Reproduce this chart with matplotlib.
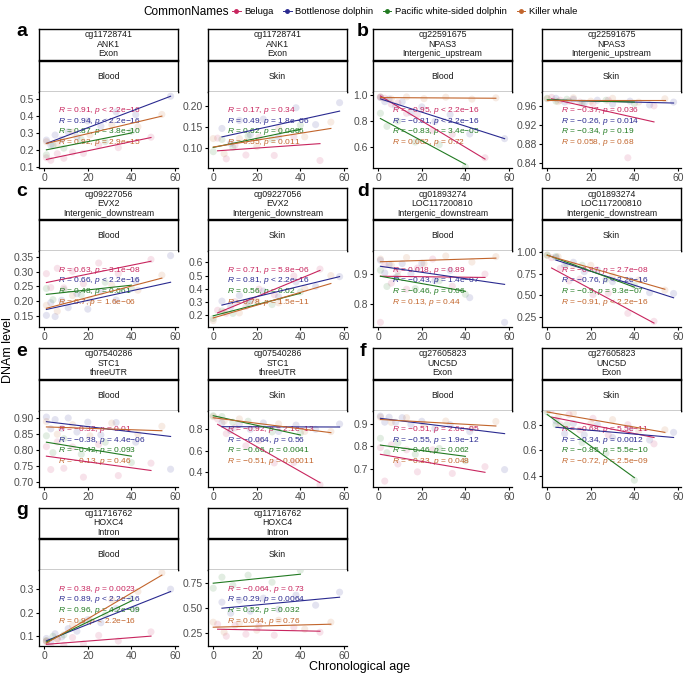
import matplotlib.pyplot as plt
from matplotlib.lines import Line2D

plt.rcParams['font.family'] = ['Liberation Sans', 'DejaVu Sans']
plt.rcParams['mathtext.fontset'] = 'custom'
plt.rcParams['mathtext.rm'] = 'Liberation Sans'
plt.rcParams['mathtext.it'] = 'Liberation Sans:italic'

species = ['Beluga', 'Bottlenose dolphin', 'Pacific white-sided dolphin', 'Killer whale']
colors = ['#C8255E', '#2A2A90', '#217A21', '#C2652C']

# sample ages (same animals for every CpG), per tissue, per species
blood_ages = [[1, 3, 6, 9, 13, 18, 25, 34, 49],
              [1, 3, 5, 8, 11, 15, 20, 26, 33, 42, 58],
              [1, 4, 9, 17, 28, 40],
              [1, 6, 13, 21, 31, 43, 54]]
skin_ages = [[2, 6, 10, 15, 21, 28, 37, 49],
             [4, 8, 12, 17, 23, 30, 38, 47, 58],
             [0, 4, 9, 16, 27, 40],
             [0, 5, 12, 20, 30, 42, 54]]

# ---- a: cg11728741
a_blood_y = [[0.153, 0.138, 0.177, 0.150, 0.186, 0.179, 0.228, 0.213, 0.275],
             [0.258, 0.228, 0.288, 0.262, 0.307, 0.277, 0.371, 0.341, 0.425, 0.409, 0.518],
             [0.170, 0.228, 0.210, 0.261, 0.249, 0.310],
             [0.248, 0.233, 0.305, 0.289, 0.350, 0.337, 0.410]]
a_blood_fit = [(0.143, 0.273), (0.238, 0.518), (0.200, 0.300), (0.238, 0.400)]
a_blood_stats = [('0.91', '< 2.2e−16'), ('0.94', '< 2.2e−16'), ('0.87', '= 3.8e−10'), ('0.92', '= 2.9e−15')]
a_blood_ticks = ['0.1', '0.2', '0.3', '0.4', '0.5']
a_blood_ylim = (0.094, 0.545)

a_skin_y = [[0.124, 0.075, 0.107, 0.084, 0.126, 0.083, 0.127, 0.071],
            [0.147, 0.112, 0.166, 0.132, 0.169, 0.127, 0.196, 0.156, 0.208],
            [0.092, 0.121, 0.102, 0.129, 0.121, 0.155],
            [0.123, 0.087, 0.123, 0.104, 0.147, 0.127, 0.162]]
a_skin_fit = [(0.094, 0.111), (0.127, 0.188), (0.102, 0.145), (0.103, 0.147)]
a_skin_stats = [('0.17', '= 0.34'), ('0.49', '= 1.8e−06'), ('0.62', '= 0.0086'), ('0.55', '= 0.011')]
a_skin_ticks = ['0.10', '0.15', '0.20']
a_skin_ylim = (0.054, 0.234)

# ---- b: cg22591675
b_blood_y = [[0.985, 0.975, 0.930, 0.940, 0.860, 0.850, 0.730, 0.700, 0.520],
             [0.980, 0.949, 0.969, 0.913, 0.947, 0.865, 0.909, 0.797, 0.850, 0.702, 0.666],
             [0.860, 0.760, 0.800, 0.640, 0.620, 0.450],
             [0.985, 0.970, 0.985, 0.972, 0.983, 0.968, 0.978]]
b_blood_fit = [(0.992, 0.510), (0.970, 0.666), (0.820, 0.470), (0.980, 0.975)]
b_blood_stats = [('−0.95', '< 2.2e−16'), ('−0.81', '< 2.2e−16'), ('−0.83', '= 3.4e−05'), ('0.062', '= 0.72')]
b_blood_ticks = ['0.6', '0.8', '1.0']
b_blood_ylim = (0.444, 1.025)

b_skin_y = [[0.978, 0.972, 0.970, 0.968, 0.965, 0.972, 0.850, 0.960],
            [0.976, 0.968, 0.974, 0.966, 0.972, 0.964, 0.970, 0.962, 0.968],
            [0.976, 0.970, 0.974, 0.966, 0.972, 0.965],
            [0.975, 0.969, 0.977, 0.970, 0.976, 0.968, 0.975]]
b_skin_fit = [(0.975, 0.926), (0.972, 0.966), (0.973, 0.968), (0.973, 0.973)]
b_skin_stats = [('−0.37', '= 0.036'), ('−0.26', '= 0.014'), ('−0.34', '= 0.19'), ('0.058', '= 0.68')]
b_skin_ticks = ['0.84', '0.88', '0.92', '0.96']
b_skin_ylim = (0.829, 0.990)

# ---- c: cg09227056
c_blood_y = [[0.293, 0.246, 0.311, 0.245, 0.301, 0.259, 0.329, 0.293, 0.341],
             [0.152, 0.195, 0.148, 0.203, 0.178, 0.225, 0.173, 0.232, 0.204, 0.268, 0.354],
             [0.243, 0.205, 0.239, 0.221, 0.264, 0.244],
             [0.186, 0.166, 0.219, 0.204, 0.254, 0.237, 0.288]]
c_blood_fit = [(0.263, 0.335), (0.172, 0.264), (0.223, 0.254), (0.176, 0.278)]
c_blood_stats = [('0.63', '= 3.1e−08'), ('0.66', '< 2.2e−16'), ('0.48', '= 0.061'), ('0.7', '= 1.6e−06')]
c_blood_ticks = ['0.15', '0.20', '0.25', '0.30', '0.35']
c_blood_ylim = (0.112, 0.369)

c_skin_y = [[0.238, 0.215, 0.303, 0.267, 0.398, 0.356, 0.497, 0.549],
            [0.307, 0.263, 0.349, 0.309, 0.383, 0.340, 0.452, 0.418, 0.492],
            [0.176, 0.233, 0.214, 0.294, 0.281, 0.376],
            [0.160, 0.224, 0.218, 0.306, 0.294, 0.402, 0.500]]
c_skin_fit = [(0.218, 0.539), (0.277, 0.492), (0.196, 0.366), (0.180, 0.440)]
c_skin_stats = [('0.71', '= 5.8e−06'), ('0.81', '< 2.2e−16'), ('0.56', '= 0.02'), ('0.78', '= 1.5e−11')]
c_skin_ticks = ['0.2', '0.3', '0.4', '0.5', '0.6']
c_skin_ylim = (0.110, 0.684)

# ---- d: cg01893274
d_blood_y = [[0.740, 0.930, 0.870, 0.910, 0.850, 0.920, 0.950, 0.860, 0.900],
             [0.946, 0.904, 0.932, 0.888, 0.935, 0.901, 0.936, 0.879, 0.912, 0.822, 0.740],
             [0.913, 0.859, 0.893, 0.852, 0.878, 0.833],
             [0.950, 0.930, 0.955, 0.935, 0.960, 0.940, 0.958]]
d_blood_fit = [(0.893, 0.889), (0.926, 0.866), (0.893, 0.843), (0.941, 0.953)]
d_blood_stats = [('0.018', '= 0.89'), ('−0.43', '= 1.4e−07'), ('−0.46', '= 0.06'), ('0.13', '= 0.44')]
d_blood_ticks = ['0.8', '0.9']
d_blood_ylim = (0.724, 0.976)

d_skin_y = [[0.937, 0.813, 0.668, 0.690, 0.509, 0.524, 0.292, 0.199],
            [0.939, 0.847, 0.884, 0.774, 0.795, 0.659, 0.674, 0.531, 0.522],
            [0.968, 0.951, 0.864, 0.849, 0.686, 0.615],
            [0.964, 0.948, 0.847, 0.848, 0.726, 0.678, 0.561]]
d_skin_fit = [(0.817, 0.179), (0.909, 0.472), (0.968, 0.595), (0.964, 0.571)]
d_skin_stats = [('−0.87', '= 2.7e−08'), ('−0.76', '< 2.2e−16'), ('−0.9', '= 9.3e−07'), ('−0.91', '< 2.2e−16')]
d_skin_ticks = ['0.25', '0.50', '0.75', '1.00']
d_skin_ylim = (0.131, 1.012)

# ---- e: cg07540286
e_blood_y = [[0.811, 0.739, 0.826, 0.743, 0.810, 0.715, 0.818, 0.720, 0.759],
             [0.904, 0.867, 0.896, 0.868, 0.901, 0.857, 0.888, 0.848, 0.887, 0.825, 0.740],
             [0.845, 0.792, 0.836, 0.787, 0.825, 0.761],
             [0.890, 0.850, 0.880, 0.845, 0.885, 0.850, 0.875]]
e_blood_fit = [(0.781, 0.736), (0.8895, 0.843), (0.825, 0.781), (0.873, 0.861)]
e_blood_stats = [('−0.32', '= 0.01'), ('−0.38', '= 4.4e−06'), ('−0.42', '= 0.093'), ('−0.13', '= 0.46')]
e_blood_ticks = ['0.70', '0.75', '0.80', '0.85', '0.90']
e_blood_ylim = (0.685, 0.924)

e_skin_y = [[0.897, 0.760, 0.814, 0.646, 0.696, 0.485, 0.490, 0.280],
            [0.860, 0.790, 0.850, 0.800, 0.860, 0.780, 0.840, 0.800, 0.850],
            [0.928, 0.920, 0.867, 0.876, 0.776, 0.767],
            [0.919, 0.876, 0.898, 0.827, 0.851, 0.780, 0.779]]
e_skin_fit = [(0.847, 0.300), (0.825, 0.822), (0.928, 0.747), (0.909, 0.769)]
e_skin_stats = [('−0.92', '= 2.1e−13'), ('−0.064', '= 0.56'), ('−0.66', '= 0.0041'), ('−0.51', '= 0.00011')]
e_skin_ticks = ['0.4', '0.6', '0.8']
e_skin_ylim = (0.262, 0.975)

# ---- f: cg27605823
f_blood_y = [[0.794, 0.645, 0.806, 0.721, 0.784, 0.686, 0.784, 0.679, 0.709],
             [0.934, 0.907, 0.929, 0.906, 0.927, 0.897, 0.911, 0.879, 0.896, 0.865, 0.696],
             [0.835, 0.771, 0.815, 0.764, 0.790, 0.735],
             [0.929, 0.906, 0.927, 0.897, 0.912, 0.881, 0.910]]
f_blood_fit = [(0.764, 0.684), (0.924, 0.856), (0.805, 0.755), (0.919, 0.890)]
f_blood_stats = [('−0.51', '= 2.6e−05'), ('−0.55', '= 1.9e−12'), ('−0.46', '= 0.062'), ('−0.33', '= 0.048')]
f_blood_ticks = ['0.7', '0.8', '0.9']
f_blood_ylim = (0.620, 0.958)

f_skin_y = [[0.920, 0.800, 0.880, 0.760, 0.850, 0.720, 0.800, 0.650],
            [0.830, 0.730, 0.810, 0.720, 0.800, 0.700, 0.770, 0.680, 0.740],
            [0.900, 0.800, 0.800, 0.660, 0.576, 0.365],
            [0.920, 0.860, 0.890, 0.810, 0.840, 0.750, 0.760]]
f_skin_fit = [(0.860, 0.700), (0.780, 0.700), (0.880, 0.385), (0.900, 0.740)]
f_skin_stats = [('−0.68', '= 5.5e−11'), ('−0.34', '= 0.0012'), ('−0.85', '= 5.5e−10'), ('−0.72', '= 2.5e−09')]
f_skin_ticks = ['0.4', '0.6', '0.8']
f_skin_ylim = (0.314, 0.910)

# ---- g: cg11716762
g_blood_y = [[0.075, 0.056, 0.089, 0.061, 0.094, 0.067, 0.103, 0.079, 0.118],
             [0.090, 0.077, 0.110, 0.096, 0.132, 0.121, 0.170, 0.157, 0.218, 0.216, 0.300],
             [0.080, 0.099, 0.105, 0.157, 0.190, 0.260],
             [0.080, 0.087, 0.146, 0.169, 0.254, 0.290, 0.370]]
g_blood_fit = [(0.065, 0.100), (0.080, 0.290), (0.075, 0.250), (0.070, 0.360)]
g_blood_stats = [('0.38', '= 0.0023'), ('0.89', '< 2.2e−16'), ('0.96', '= 4.2e−09'), ('0.9', '< 2.2e−16')]
g_blood_ticks = ['0.1', '0.2', '0.3']
g_blood_ylim = (0.057, 0.381)

g_skin_y = [[0.340, 0.220, 0.330, 0.240, 0.320, 0.230, 0.310, 0.260],
            [0.560, 0.450, 0.580, 0.470, 0.600, 0.490, 0.630, 0.530, 0.660],
            [0.700, 0.810, 0.730, 0.830, 0.760, 0.880],
            [0.360, 0.260, 0.350, 0.280, 0.380, 0.290, 0.360]]
g_skin_fit = [(0.290, 0.270), (0.500, 0.610), (0.750, 0.840), (0.310, 0.340)]
g_skin_stats = [('−0.064', '= 0.73'), ('0.29', '= 0.0064'), ('0.52', '= 0.032'), ('0.044', '= 0.76')]
g_skin_ticks = ['0.25', '0.50', '0.75']
g_skin_ylim = (0.120, 0.880)

probes = {
    'a': 'cg11728741\nANK1\nExon',
    'b': 'cg22591675\nNPAS3\nIntergenic_upstream',
    'c': 'cg09227056\nEVX2\nIntergenic_downstream',
    'd': 'cg01893274\nLOC117200810\nIntergenic_downstream',
    'e': 'cg07540286\nSTC1\nthreeUTR',
    'f': 'cg27605823\nUNC5D\nExon',
    'g': 'cg11716762\nHOXC4\nIntron',
}

g = globals()
panels = []
for k in 'abcdefg':
    for tissue in ['blood', 'skin']:
        pre = f'{k}_{tissue}_'
        panels.append(dict(letter=k, tissue=tissue.capitalize(),
                           y=g[pre + 'y'], fit=g[pre + 'fit'], stats=g[pre + 'stats'],
                           ticks=g[pre + 'ticks'], ylim=g[pre + 'ylim']))

W, H = 685, 675
fig = plt.figure(figsize=(W / 100, H / 100), dpi=100)


def rect(x, top, w, h):
    return [x / W, 1 - (top + h) / H, w / W, h / H]


col_left = [39, 208, 373, 542]
pw = 139

for i, p in enumerate(panels):
    r, c = divmod(i, 4)
    s1 = 29 + 159.5 * r
    # strips
    for top, hgt, txt in [(s1, 30.5, probes[p['letter']]), (s1 + 31.8, 30.8, p['tissue'])]:
        sa = fig.add_axes(rect(col_left[c], top, pw, hgt))
        sa.set_xticks([]); sa.set_yticks([])
        for sp in sa.spines.values():
            sp.set_linewidth(1.0)
        sa.text(0.5, 0.5, txt, ha='center', va='center', fontsize=6.3,
                linespacing=1.05, transform=sa.transAxes, color='#1A1A1A')
    ax = fig.add_axes(rect(col_left[c], s1 + 62.7, pw, 76))
    ages = blood_ages if p['tissue'] == 'Blood' else skin_ages
    for j in range(4):
        ax.scatter(ages[j], p['y'][j], s=26, color=colors[j], alpha=0.13,
                   edgecolors='none', zorder=1)
        ax.plot([min(ages[j]), max(ages[j])], p['fit'][j], color=colors[j],
                lw=0.8, zorder=3)
        rv, pv = p['stats'][j]
        ax.text(0.14, 0.75 - 0.14 * j, rf'$\it{{R}}$ = {rv}, $\it{{p}}$ {pv}',
                transform=ax.transAxes, color=colors[j], fontsize=6.0,
                va='center', ha='left', zorder=2)
    ax.set_xlim(-2.4, 61.4)
    ax.set_ylim(*p['ylim'])
    ax.set_xticks([0, 20, 40, 60])
    ax.set_yticks([float(t) for t in p['ticks']])
    ax.set_yticklabels(p['ticks'])
    ax.spines['top'].set_visible(False)
    ax.spines['right'].set_visible(False)
    for sp in ['left', 'bottom']:
        ax.spines[sp].set_linewidth(0.9)
    ax.tick_params(labelsize=7.5, colors='black', labelcolor='#4D4D4D',
                   length=2.5, width=0.8, pad=1.2)
    if p['tissue'] == 'Blood' and c in (0, 2):
        fig.text((22 if c == 0 else 363) / W, 1 - (s1 + 3) / H, p['letter'],
                 fontsize=14, fontweight='bold', ha='center', va='center')

fig.text(8 / W, 1 - 350 / H, 'DNAm level', rotation=90, ha='center', va='center', fontsize=9)
fig.text(360 / W, 1 - 667 / H, 'Chronological age', ha='center', va='center', fontsize=9)

handles = [Line2D([0], [0], color=col, marker='o', markersize=2.5, lw=0.7) for col in colors]
fig.text(229 / W, 1 - 12 / H, 'CommonNames', ha='right', va='center', fontsize=8.5)
fig.legend(handles, species, loc='center left', bbox_to_anchor=(232 / W, 1 - 12 / H),
           ncol=4, frameon=False, fontsize=6.8, handlelength=0.9, handletextpad=0.4,
           columnspacing=1.0, borderaxespad=0, borderpad=0)

fig.savefig('out.png', dpi=100)
